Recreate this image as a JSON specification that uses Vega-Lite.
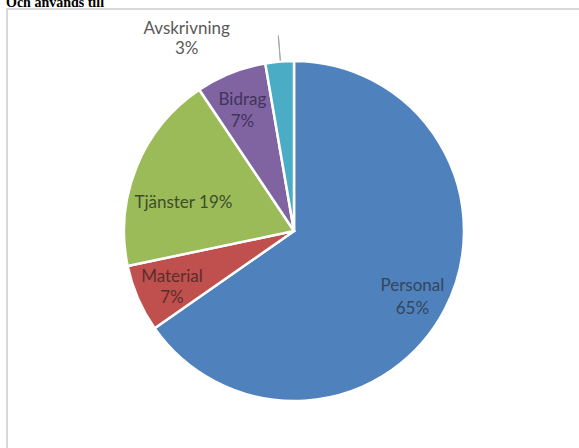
{
  "$schema": "https://vega.github.io/schema/vega-lite/v6.json",
  "autosize": "none",
  "width": 574,
  "height": 444,
  "padding": {"left": 7, "top": 9, "right": 0, "bottom": 0},
  "background": "white",
  "view": {"stroke": "#d9d9d9", "strokeWidth": 2},
  "title": {
    "text": "Och används till",
    "anchor": "start",
    "font": "Liberation Serif",
    "fontWeight": "bold",
    "fontSize": 14,
    "color": "#000000",
    "offset": 0,
    "dx": -1,
    "dy": 1
  },
  "data": {
    "values": [
      {"kategori": "Personal", "andel": 65.3, "etikett": "Personal\n65%", "ordning": 1},
      {"kategori": "Material", "andel": 6.4, "etikett": "Material\n7%", "ordning": 2},
      {"kategori": "Tjänster", "andel": 18.9, "etikett": "Tjänster 19%", "ordning": 3},
      {"kategori": "Bidrag", "andel": 6.7, "etikett": "Bidrag\n7%", "ordning": 4},
      {"kategori": "Avskrivning", "andel": 2.7, "etikett": "Avskrivning\n3%", "ordning": 5}
    ]
  },
  "encoding": {
    "theta": {"field": "andel", "type": "quantitative", "stack": true},
    "order": {"field": "ordning", "type": "quantitative"}
  },
  "layer": [
    {
      "mark": {"type": "arc", "outerRadius": 170, "stroke": "white", "strokeWidth": 2.5},
      "encoding": {
        "color": {
          "field": "kategori",
          "type": "nominal",
          "scale": {
            "domain": ["Personal", "Material", "Tjänster", "Bidrag", "Avskrivning"],
            "range": ["#4f81bd", "#c0504d", "#9bbb59", "#8064a2", "#4bacc6"]
          },
          "legend": null
        }
      }
    },
    {
      "mark": {"type": "text", "radius": 138, "dx": -4, "dy": -9, "font": "Lato", "fontSize": 17, "fill": "#34465c", "lineBreak": "\n", "lineHeight": 23, "align": "center", "baseline": "middle"},
      "encoding": {"text": {"condition": {"test": "datum.kategori === 'Personal'", "field": "etikett"}, "value": ""}}
    },
    {
      "mark": {"type": "text", "radius": 133, "dy": -7, "font": "Lato", "fontSize": 17, "fill": "#5a2e2e", "lineBreak": "\n", "lineHeight": 21, "align": "center", "baseline": "middle"},
      "encoding": {"text": {"condition": {"test": "datum.kategori === 'Material'", "field": "etikett"}, "value": ""}}
    },
    {
      "mark": {"type": "text", "radius": 114, "dx": -5, "dy": 15, "font": "Lato", "fontSize": 17, "fill": "#3f4d28", "lineBreak": "\n", "lineHeight": 21, "align": "center", "baseline": "middle"},
      "encoding": {"text": {"condition": {"test": "datum.kategori === 'Tjänster'", "field": "etikett"}, "value": ""}}
    },
    {
      "mark": {"type": "text", "radius": 131, "dx": -3, "dy": -9, "font": "Lato", "fontSize": 17, "fill": "#41335a", "lineBreak": "\n", "lineHeight": 22, "align": "center", "baseline": "middle"},
      "encoding": {"text": {"condition": {"test": "datum.kategori === 'Bidrag'", "field": "etikett"}, "value": ""}}
    },
    {
      "mark": {"type": "text", "radius": 205, "dx": -90, "dy": 2, "font": "Lato", "fontSize": 17, "fill": "#595959", "lineBreak": "\n", "lineHeight": 20, "align": "center", "baseline": "middle"},
      "encoding": {"text": {"condition": {"test": "datum.kategori === 'Avskrivning'", "field": "etikett"}, "value": ""}}
    },
    {
      "data": {"values": [{"kategori": "Avskrivning"}]},
      "mark": {"type": "arc", "theta": -0.08, "theta2": -0.08, "radius": 171, "radius2": 196, "stroke": "#a6a6a6", "strokeWidth": 1, "fill": null},
      "encoding": {"theta": null, "order": null}
    }
  ]
}
